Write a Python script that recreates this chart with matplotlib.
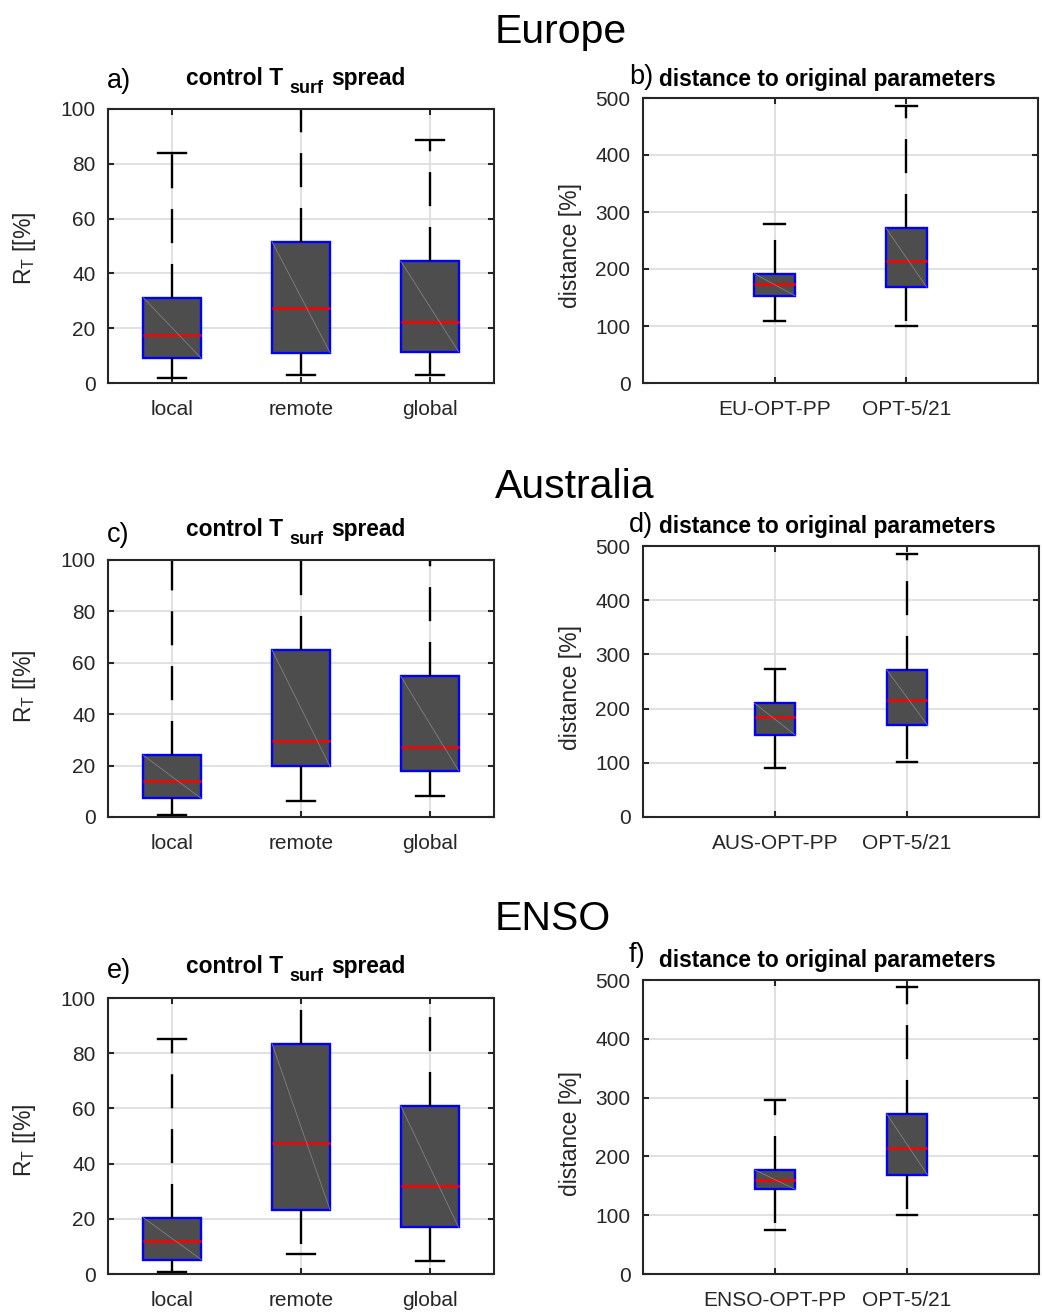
import matplotlib
matplotlib.use("Agg")
import matplotlib.pyplot as plt

plt.rcParams['font.family'] = ['Liberation Sans', 'DejaVu Sans']
plt.rcParams['mathtext.fontset'] = 'custom'
plt.rcParams['mathtext.rm'] = 'Liberation Sans'
plt.rcParams['mathtext.bf'] = 'Liberation Sans:bold'
plt.rcParams['mathtext.it'] = 'Liberation Sans:italic'
plt.rcParams['mathtext.sf'] = 'Liberation Sans'
plt.rcParams['lines.scale_dashes'] = False

# ---------------- data ----------------
spread_labels = ["local", "remote", "global"]

eu_spread_lo = [1.9, 3.0, 2.8]
eu_spread_q1 = [9.0, 11.1, 11.4]
eu_spread_med = [17.5, 27.4, 22.3]
eu_spread_q3 = [31.1, 51.6, 44.5]
eu_spread_hi = [84.0, 110.0, 88.7]

au_spread_lo = [0.7, 6.2, 8.1]
au_spread_q1 = [7.2, 19.7, 18.0]
au_spread_med = [13.9, 29.5, 27.2]
au_spread_q3 = [24.0, 65.0, 54.8]
au_spread_hi = [110.0, 110.0, 110.0]

en_spread_lo = [0.6, 7.4, 4.6]
en_spread_q1 = [5.2, 23.3, 16.9]
en_spread_med = [12.1, 47.3, 31.9]
en_spread_q3 = [20.4, 83.4, 60.9]
en_spread_hi = [85.2, 105.0, 110.0]

eu_dist_labels = ["EU-OPT-PP", "OPT-5/21"]
eu_dist_lo = [109.0, 100.5]
eu_dist_q1 = [153.0, 168.0]
eu_dist_med = [174.0, 214.6]
eu_dist_q3 = [192.0, 272.0]
eu_dist_hi = [279.0, 486.0]

au_dist_labels = ["AUS-OPT-PP", "OPT-5/21"]
au_dist_lo = [90.0, 101.7]
au_dist_q1 = [150.8, 169.4]
au_dist_med = [184.0, 215.6]
au_dist_q3 = [209.8, 272.0]
au_dist_hi = [273.6, 486.0]

en_dist_labels = ["ENSO-OPT-PP", "OPT-5/21"]
en_dist_lo = [75.3, 100.8]
en_dist_q1 = [143.8, 168.7]
en_dist_med = [160.2, 214.6]
en_dist_q3 = [177.2, 272.4]
en_dist_hi = [296.0, 488.0]

section_titles = ["Europe", "Australia", "ENSO"]
panel_letters = ["a)", "b)", "c)", "d)", "e)", "f)"]

# ---------------- figure ----------------
W, H = 1042, 1312
fig = plt.figure(figsize=(W / 100, H / 100), dpi=100)

AX_COL = '#262626'


def px_axes(x0, y0, x1, y1):
    return fig.add_axes([x0 / W, 1 - y1 / H, (x1 - x0) / W, (y1 - y0) / H])


def ftext(x, y, s, **kw):
    return fig.text(x / W, 1 - y / H, s, **kw)


def draw_box(ax, labels, lo, q1, med, q3, hi, positions, width, capw, ylim, yticks, xlim):
    stats = []
    for lab, a, b, c, d, e in zip(labels, lo, q1, med, q3, hi):
        stats.append(dict(label=lab, whislo=a, q1=b, med=c, q3=d, whishi=e, fliers=[]))
    ax.bxp(stats, positions=positions, widths=width, capwidths=capw,
           patch_artist=True, showfliers=False, manage_ticks=False,
           boxprops=dict(facecolor='#4d4d4d', edgecolor='#0000ff', linewidth=1.7),
           whiskerprops=dict(color='black', linewidth=1.7, linestyle=(0, (24.5, 15.0))),
           capprops=dict(color='black', linewidth=1.7),
           medianprops=dict(color='#ff0000', linewidth=1.8))
    for p, b, d in zip(positions, q1, q3):
        ax.plot([p - width / 2, p + width / 2], [d, b], color='#8a8a8a', lw=0.5, zorder=2.2)
    ax.set_xlim(*xlim)
    ax.set_ylim(*ylim)
    ax.set_yticks(yticks)
    ax.set_xticks(positions)
    ax.set_xticklabels(labels)
    ax.set_axisbelow(True)
    ax.grid(True, color='#dedede', lw=1.3)
    for sp in ax.spines.values():
        sp.set_color(AX_COL)
        sp.set_linewidth(1.5)
    ax.tick_params(axis='both', direction='in', length=4, width=1.5, color=AX_COL,
                   labelcolor=AX_COL, labelsize=15, top=True, right=True)
    ax.tick_params(axis='y', pad=9)
    ax.tick_params(axis='x', pad=12)


rows = [
    dict(title=section_titles[0], ty=43,
         sp=(eu_spread_lo, eu_spread_q1, eu_spread_med, eu_spread_q3, eu_spread_hi),
         dl=eu_dist_labels,
         dist=(eu_dist_lo, eu_dist_q1, eu_dist_med, eu_dist_q3, eu_dist_hi),
         ax_l=(108, 109, 494, 383), ax_r=(643, 98, 1038, 383),
         lt_y=85, ll_y=88, rt_y=86, rl_y=84, yl_l=248, yl_r=246),
    dict(title=section_titles[1], ty=498,
         sp=(au_spread_lo, au_spread_q1, au_spread_med, au_spread_q3, au_spread_hi),
         dl=au_dist_labels,
         dist=(au_dist_lo, au_dist_q1, au_dist_med, au_dist_q3, au_dist_hi),
         ax_l=(108, 560, 494, 817), ax_r=(643, 546, 1039, 817),
         lt_y=536, ll_y=542, rt_y=533, rl_y=532, yl_l=686, yl_r=688),
    dict(title=section_titles[2], ty=930,
         sp=(en_spread_lo, en_spread_q1, en_spread_med, en_spread_q3, en_spread_hi),
         dl=en_dist_labels,
         dist=(en_dist_lo, en_dist_q1, en_dist_med, en_dist_q3, en_dist_hi),
         ax_l=(108, 998, 494, 1274), ax_r=(643, 980, 1039, 1274),
         lt_y=973, ll_y=978, rt_y=967, rl_y=962, yl_l=1140, yl_r=1134),
]

for i, r in enumerate(rows):
    axl = px_axes(*r['ax_l'])
    draw_box(axl, spread_labels, *r['sp'], positions=[1, 2, 3], width=0.45, capw=0.22,
             ylim=(0, 100), yticks=[0, 20, 40, 60, 80, 100], xlim=(0.5, 3.5))
    axr = px_axes(*r['ax_r'])
    draw_box(axr, r['dl'], *r['dist'], positions=[1, 2], width=0.31, capw=0.155,
             ylim=(0, 500), yticks=[0, 100, 200, 300, 400, 500], xlim=(0, 3))

    ftext(495, r['ty'], r['title'], fontsize=29.5, ha='left', va='baseline', color='black')
    ftext(107, r['ll_y'], panel_letters[2 * i], fontsize=19.5, ha='left', va='baseline', color='black')
    # title "control T_surf spread" as three pieces
    ftext(186, r['lt_y'], "control T", fontsize=16.4, fontweight='bold',
          ha='left', va='baseline', color='black')
    ftext(289, r['lt_y'] + 8, "surf", fontsize=13, fontweight='bold',
          ha='left', va='baseline', color='black')
    ftext(331, r['lt_y'], "spread", fontsize=16.4, fontweight='bold',
          ha='left', va='baseline', color='black')
    ftext(629, r['rl_y'], panel_letters[2 * i + 1], fontsize=19.5, ha='left', va='baseline', color='black')
    ftext(659, r['rt_y'], "distance to original parameters", fontsize=16.4,
          fontweight='bold', ha='left', va='baseline', color='black')
    ftext(25, r['yl_l'], r"R$_{\mathrm{T}}$ [[%]", fontsize=16.5, rotation=90,
          ha='center', va='center', color=AX_COL)
    ftext(571, r['yl_r'], "distance [%]", fontsize=16.5, rotation=90,
          ha='center', va='center', color=AX_COL)

fig.savefig("out.png", dpi=100)
